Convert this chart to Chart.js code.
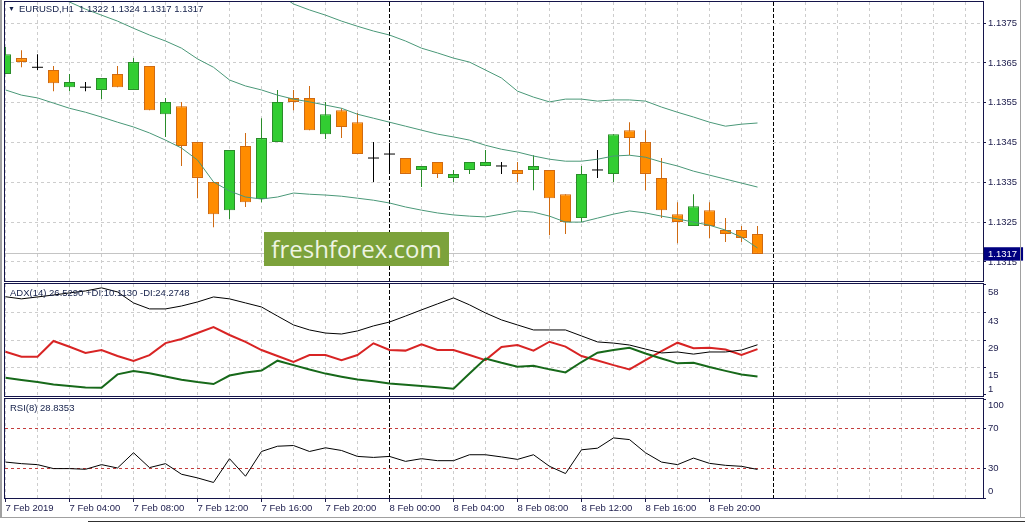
<!DOCTYPE html>
<html>
<head>
<meta charset="utf-8">
<script src="https://cdn.jsdelivr.net/npm/chart.js@4.4.1/dist/chart.umd.min.js"></script>
<style>
  body { margin: 0; background: #fff; }
  #wrap { position: relative; width: 1025px; height: 523px; overflow: hidden; font-family: "Liberation Sans", Arial, sans-serif; }
  #wrap canvas { position: absolute; left: 0; }
  .hdr { position: absolute; font-size: 9.5px; line-height: 12px; color: #14204a; white-space: pre; z-index: 5; }
  .tri { font-size: 7px; vertical-align: 1px; margin-right: 4px; }
  #mark { position: absolute; left: 264px; top: 232px; width: 185px; height: 34px; background: #7ca23b;
          color: #eef4e2; font: 24px "Open Sans", sans-serif; line-height: 33px; text-align: center; z-index: 4; }
  .edge { position: absolute; background: #a0a0a0; }
</style>
</head>
<body>
<div id="wrap">
  <canvas id="priceChart" width="1025" height="282" style="top:0"></canvas>
  <canvas id="adxChart" width="1025" height="115" style="top:282px"></canvas>
  <canvas id="rsiChart" width="1025" height="126" style="top:397px"></canvas>

  <div class="hdr" style="left:8px; top:3px"><span class="tri">▼</span>EURUSD,H1  1.1322 1.1324 1.1317 1.1317</div>
  <div class="hdr" style="left:10px; top:287px">ADX(14) 26.5290 +DI:10.1130 -DI:24.2748</div>
  <div class="hdr" style="left:10px; top:402px">RSI(8) 28.8353</div>
  <div id="mark">freshforex.com</div>

  <div class="edge" style="left:0; top:0; width:2px; height:518px"></div>
  <div class="edge" style="left:1020px; top:0; width:1px; height:518px"></div>
  <div class="edge" style="left:0; top:517px; width:1025px; height:1px"></div>
  <div class="edge" style="left:88px; top:521px; width:937px; height:1px; background:#303030"></div>
</div>

<script>
// time axis labels, one every 4 hours
const timeLabels = ['7 Feb 2019', '7 Feb 04:00', '7 Feb 08:00', '7 Feb 12:00', '7 Feb 16:00', '7 Feb 20:00',
                    '8 Feb 00:00', '8 Feb 04:00', '8 Feb 08:00', '8 Feb 12:00', '8 Feb 16:00', '8 Feb 20:00'];

// EURUSD H1 candles, 7 Feb 00:00 .. 8 Feb 23:00
const openP  = [1.13622, 1.13662, 1.13639, 1.13632, 1.13589, 1.13589, 1.13582, 1.13622, 1.13582, 1.13642, 1.13521, 1.13541,
                1.13451, 1.13351, 1.13280, 1.13441, 1.13308, 1.13451, 1.13562, 1.13562, 1.13471, 1.13531, 1.13501, 1.13411,
                1.13421, 1.13411, 1.13381, 1.13401, 1.13361, 1.13381, 1.13391, 1.13391, 1.13381, 1.13381, 1.13381, 1.13320,
                1.13260, 1.13381, 1.13371, 1.13481, 1.13451, 1.13361, 1.13270, 1.13240, 1.13280, 1.13230, 1.13230, 1.13220];
const highP  = [1.13690, 1.13682, 1.13672, 1.13642, 1.13622, 1.13602, 1.13612, 1.13642, 1.13662, 1.13642, 1.13562, 1.13552,
                1.13451, 1.13351, 1.13431, 1.13474, 1.13511, 1.13582, 1.13582, 1.13592, 1.13552, 1.13536, 1.13524, 1.13451,
                1.13449, 1.13411, 1.13391, 1.13401, 1.13381, 1.13401, 1.13431, 1.13401, 1.13401, 1.13418, 1.13381, 1.13320,
                1.13391, 1.13431, 1.13471, 1.13501, 1.13481, 1.13411, 1.13300, 1.13320, 1.13300, 1.13260, 1.13240, 1.13240];
const lowP   = [1.13622, 1.13639, 1.13632, 1.13579, 1.13579, 1.13579, 1.13559, 1.13589, 1.13582, 1.13531, 1.13464, 1.13391,
                1.13310, 1.13237, 1.13258, 1.13288, 1.13300, 1.13451, 1.13531, 1.13481, 1.13459, 1.13461, 1.13421, 1.13351,
                1.13376, 1.13371, 1.13338, 1.13361, 1.13351, 1.13371, 1.13391, 1.13371, 1.13351, 1.13330, 1.13217, 1.13220,
                1.13250, 1.13361, 1.13351, 1.13418, 1.13330, 1.13260, 1.13197, 1.13240, 1.13210, 1.13200, 1.13200, 1.13170];
const closeP = [1.13672, 1.13652, 1.13639, 1.13599, 1.13602, 1.13589, 1.13612, 1.13589, 1.13652, 1.13531, 1.13552, 1.13441,
                1.13361, 1.13270, 1.13431, 1.13300, 1.13461, 1.13552, 1.13552, 1.13481, 1.13521, 1.13489, 1.13421, 1.13411,
                1.13421, 1.13371, 1.13391, 1.13371, 1.13371, 1.13401, 1.13401, 1.13391, 1.13371, 1.13391, 1.13310, 1.13250,
                1.13371, 1.13381, 1.13471, 1.13461, 1.13371, 1.13280, 1.13250, 1.13290, 1.13240, 1.13220, 1.13210, 1.13170];

// bands
const bbUpper  = [1.14155, 1.14132, 1.14109, 1.14087, 1.14069, 1.14044, 1.14026, 1.14009, 1.13986, 1.13966, 1.13954, 1.13938,
                  1.13918, 1.13903, 1.13886, 1.13871, 1.13856, 1.13825, 1.13798, 1.13783, 1.13770, 1.13755, 1.13742, 1.13730,
                  1.13720, 1.13705, 1.13687, 1.13675, 1.13662, 1.13652, 1.13632, 1.13612, 1.13579, 1.13564, 1.13552, 1.13559,
                  1.13559, 1.13554, 1.13557, 1.13557, 1.13554, 1.13539, 1.13526, 1.13514, 1.13501, 1.13491, 1.13496, 1.13499];
const bbMiddle = [1.13868, 1.13851, 1.13835, 1.13818, 1.13803, 1.13785, 1.13770, 1.13755, 1.13737, 1.13720, 1.13705, 1.13687,
                  1.13660, 1.13639, 1.13607, 1.13592, 1.13582, 1.13569, 1.13559, 1.13552, 1.13544, 1.13536, 1.13521, 1.13511,
                  1.13501, 1.13491, 1.13481, 1.13471, 1.13464, 1.13456, 1.13443, 1.13433, 1.13426, 1.13416, 1.13408, 1.13403,
                  1.13403, 1.13408, 1.13416, 1.13418, 1.13413, 1.13401, 1.13391, 1.13378, 1.13368, 1.13358, 1.13348, 1.13338];
const bbLower  = [1.13582, 1.13569, 1.13562, 1.13549, 1.13536, 1.13526, 1.13514, 1.13501, 1.13489, 1.13474, 1.13456, 1.13436,
                  1.13406, 1.13351, 1.13328, 1.13313, 1.13308, 1.13313, 1.13323, 1.13320, 1.13318, 1.13315, 1.13310, 1.13305,
                  1.13298, 1.13288, 1.13280, 1.13273, 1.13268, 1.13265, 1.13263, 1.13270, 1.13278, 1.13275, 1.13265, 1.13250,
                  1.13250, 1.13260, 1.13270, 1.13278, 1.13273, 1.13265, 1.13258, 1.13250, 1.13242, 1.13230, 1.13212, 1.13185];

// ADX(14)
const adx     = [51.4, 50.3, 51.3, 52.3, 53.4, 54.4, 56.0, 53.9, 48.2, 45.1, 45.1, 46.6, 48.7, 51.3, 50.3, 48.2,
                 46.1, 41.4, 36.8, 34.2, 32.6, 32.1, 33.7, 36.3, 38.3, 41.4, 44.6, 47.7, 50.8, 47.2, 43.0, 39.4,
                 36.8, 34.2, 34.2, 34.2, 31.1, 28.0, 27.4, 26.4, 24.3, 22.3, 22.8, 21.7, 22.8, 22.8, 23.8, 26.53];
const plusDI  = [9.5, 8.3, 7.2, 6.0, 5.2, 4.4, 4.3, 11.2, 12.9, 11.8, 10.1, 8.4, 7.2, 6.2, 10.6, 12.2,
                 13.2, 18.3, 16.0, 13.7, 11.6, 10.0, 8.5, 7.6, 6.5, 5.8, 5.2, 4.5, 3.8, 11.6, 19.4, 17.2,
                 15.2, 15.7, 13.8, 12.2, 17.6, 22.4, 23.8, 25.0, 22.0, 19.4, 16.9, 17.2, 15.0, 13.0, 11.1, 10.11];
const minusDI = [22.9, 20.3, 20.3, 28.5, 25.5, 22.3, 23.8, 20.7, 18.1, 21.2, 27.4, 29.5, 32.6, 35.7, 31.6, 28.0,
                 23.8, 20.7, 17.7, 21.2, 21.2, 18.6, 21.2, 27.3, 23.8, 23.5, 26.8, 23.8, 23.8, 21.2, 18.6, 25.4,
                 26.4, 23.5, 28.1, 25.6, 20.7, 18.4, 16.0, 13.8, 18.6, 23.3, 27.6, 24.7, 25.0, 24.1, 21.2, 24.27];

// RSI(8)
const rsi = [36.3, 34.7, 33.7, 29.7, 29.7, 29.0, 33.7, 30.3, 45.7, 30.7, 34.7, 24.0, 20.3, 15.7, 39.7, 22.0,
             47.0, 52.3, 53.0, 47.0, 50.7, 48.0, 42.0, 41.0, 42.0, 37.0, 39.7, 37.7, 37.7, 43.7, 43.7, 41.5,
             39.0, 43.7, 32.0, 24.7, 48.7, 50.3, 60.7, 59.0, 45.7, 36.3, 33.7, 40.3, 35.0, 33.0, 32.0, 28.84];

// axis tick labels
const priceTicks = [1.1315, 1.1325, 1.1335, 1.1345, 1.1355, 1.1365, 1.1375];
const adxTicks = [58, 43, 29, 15, 1];
const rsiTicks = [100, 70, 30, 0];
const rsiLevels = [70, 30];

const lastPrice = closeP[closeP.length - 1];
const axisInk = '#1c1c4c';
const gridGrey = '#cdcdcd';
const none = 'rgba(0,0,0,0)';

Chart.defaults.font.family = '"Liberation Sans", Arial, sans-serif';
Chart.defaults.font.size = 9.5;
Chart.defaults.animation = false;
Chart.defaults.plugins.legend.display = false;
Chart.defaults.plugins.tooltip.enabled = false;

// frame round each pane
const paneFrame = {
    id: 'paneFrame',
    afterDraw(chart) {
        const { ctx, chartArea: a } = chart;
        ctx.save();
        ctx.strokeStyle = '#14144a';
        ctx.lineWidth = 1;
        ctx.strokeRect(Math.round(a.left) - 0.5, Math.round(a.top) - 0.5,
                       Math.round(a.right - a.left) + 1, Math.round(a.bottom - a.top) + 1);
        ctx.restore();
    }
};

// keep right-hand labels inside their pane like the terminal does
const keepLabelsInside = {
    id: 'keepLabelsInside',
    beforeDraw(chart) {
        const y = chart.scales.y;
        if (!y || !y.getLabelItems) return;
        const { top, bottom } = chart.chartArea;
        y.getLabelItems().forEach(item => {
            const t = item.options && item.options.translation;
            if (!t) return;
            t[1] = Math.min(Math.max(t[1], top + 6), bottom - 7);
        });
    }
};

function hasLabel(v) {
    return v % 4 === 0 && v / 4 < timeLabels.length;
}

const isDaySep = ctx => ctx.tick && ctx.tick.value > 0 && ctx.tick.value % 24 === 0;

function xAxis(showLabels) {
    return {
        type: 'linear',
        min: -0.03125,
        max: 61.09375,
        offset: false,
        afterBuildTicks: axis => {
            const t = [];
            for (let h = 0; h <= 60; h += 2) t.push({ value: h });
            axis.ticks = t;
        },
        grid: {
            offset: false,
            color: ctx => isDaySep(ctx) ? '#000' : gridGrey,
            drawTicks: showLabels,
            tickLength: 4,
            tickColor: ctx => (ctx.tick && hasLabel(ctx.tick.value)) ? axisInk : none
        },
        border: { display: false, dash: ctx => isDaySep(ctx) ? [4, 2] : (ctx.tick ? [3, 3] : []) },
        ticks: {
            display: showLabels,
            autoSkip: false,
            maxRotation: 0,
            align: 'start',
            padding: 1,
            color: axisInk,
            callback: v => hasLabel(v) ? timeLabels[v / 4] : ''
        },
        afterFit: axis => {
            axis.height = showLabels ? 20 : 0;
            axis.paddingLeft = 0;
            axis.paddingRight = 0;
        }
    };
}

function fitRight(axis) {
    axis.width = 42;
    axis.paddingTop = 0;
    axis.paddingBottom = 0;
}

const idx = openP.map((_, i) => i);
const isDoji = i => openP[i] === closeP[i];
const isBull = i => closeP[i] > openP[i];
const bodyIdx = idx.filter(i => !isDoji(i));
const dojiIdx = idx.filter(isDoji);
const edgeOf = i => isDoji(i) ? '#000000' : (isBull(i) ? '#2a8c2a' : '#cf6a12');
const bandColor = '#4a9878';

function series(arr) {
    return idx.map(i => ({ x: i, y: arr[i] }));
}

function band(arr) {
    return { type: 'line', data: series(arr), borderColor: bandColor, borderWidth: 1,
             pointRadius: 0, tension: 0, order: 0, clip: 0 };
}

// price pane
new Chart(document.getElementById('priceChart'), {
    type: 'bar',
    data: {
        datasets: [
            band(bbUpper),
            band(bbMiddle),
            band(bbLower),
            {
                type: 'line',
                data: dojiIdx.map(i => ({ x: i, y: openP[i] })),
                showLine: false,
                pointStyle: 'line',
                pointRadius: 5.5,
                pointBorderWidth: 1,
                pointBorderColor: '#000',
                order: 1,
                clip: 0
            },
            {
                type: 'bar',
                data: bodyIdx.map(i => ({ x: i, y: [openP[i], closeP[i]] })),
                backgroundColor: bodyIdx.map(i => isBull(i) ? '#32cd32' : '#ff8c00'),
                borderColor: bodyIdx.map(edgeOf),
                borderWidth: 1,
                borderSkipped: false,
                grouped: false,
                categoryPercentage: 1,
                barPercentage: 1,
                maxBarThickness: 11,
                inflateAmount: 0,
                order: 2,
                clip: 0
            },
            {
                type: 'bar',
                data: idx.map(i => ({ x: i, y: [lowP[i], highP[i]] })),
                backgroundColor: idx.map(edgeOf),
                borderWidth: 0,
                grouped: false,
                categoryPercentage: 1,
                barPercentage: 1,
                maxBarThickness: 1,
                inflateAmount: 0,
                order: 3,
                clip: 0
            }
        ]
    },
    options: {
        responsive: false,
        layout: { autoPadding: false, padding: { left: 5, right: 0, top: 2, bottom: 1 } },
        scales: {
            x: xAxis(false),
            y: {
                type: 'linear',
                position: 'right',
                min: 1.13102,
                max: 1.13803,
                afterBuildTicks: axis => {
                    axis.ticks = priceTicks.map(v => ({ value: v })).concat([{ value: lastPrice }]);
                },
                grid: {
                    color: ctx => ctx.tick && ctx.tick.value === lastPrice ? '#c4c4c4' : gridGrey,
                    tickLength: 3,
                    tickColor: ctx => ctx.tick && ctx.tick.value === lastPrice ? none : axisInk
                },
                border: { display: false, dash: ctx => (ctx.tick && ctx.tick.value !== lastPrice) ? [3, 3] : [] },
                ticks: {
                    padding: 2,
                    autoSkip: false,
                    color: ctx => ctx.tick && ctx.tick.value === lastPrice ? '#ffffff' : axisInk,
                    showLabelBackdrop: true,
                    backdropColor: ctx => ctx.tick && ctx.tick.value === lastPrice ? '#000080' : none,
                    backdropPadding: { top: 1, bottom: 1, left: 5, right: 6 },
                    callback: v => Number(v).toFixed(4)
                },
                afterFit: fitRight
            }
        }
    },
    plugins: [paneFrame, keepLabelsInside]
});

// ADX pane
new Chart(document.getElementById('adxChart'), {
    type: 'line',
    data: {
        datasets: [
            { data: series(adx), borderColor: '#000000', borderWidth: 1, pointRadius: 0, tension: 0, clip: 0 },
            { data: series(plusDI), borderColor: '#17691a', borderWidth: 2, pointRadius: 0, tension: 0, clip: 0 },
            { data: series(minusDI), borderColor: '#d82424', borderWidth: 2, pointRadius: 0, tension: 0, clip: 0 }
        ]
    },
    options: {
        responsive: false,
        layout: { autoPadding: false, padding: { left: 5, right: 0, top: 2, bottom: 1 } },
        scales: {
            x: xAxis(false),
            y: {
                type: 'linear',
                position: 'right',
                min: 0,
                max: 58,
                afterBuildTicks: axis => { axis.ticks = adxTicks.map(v => ({ value: v })); },
                grid: {
                    color: ctx => (ctx.tick && (ctx.tick.value === adxTicks[0] || ctx.tick.value === adxTicks[adxTicks.length - 1])) ? none : gridGrey,
                    tickLength: 3,
                    tickColor: axisInk
                },
                border: { display: false, dash: ctx => ctx.tick ? [3, 3] : [] },
                ticks: { padding: 2, autoSkip: false, labelOffset: 8, color: axisInk },
                afterFit: fitRight
            }
        }
    },
    plugins: [paneFrame, keepLabelsInside]
});

// RSI pane
new Chart(document.getElementById('rsiChart'), {
    type: 'line',
    data: {
        datasets: [
            { data: series(rsi), borderColor: '#000000', borderWidth: 1, pointRadius: 0, tension: 0, clip: 0 }
        ]
    },
    options: {
        responsive: false,
        layout: { autoPadding: false, padding: { left: 5, right: 0, top: 2, bottom: 5 } },
        scales: {
            x: xAxis(true),
            y: {
                type: 'linear',
                position: 'right',
                min: 0,
                max: 100,
                afterBuildTicks: axis => { axis.ticks = rsiTicks.map(v => ({ value: v })); },
                grid: {
                    color: ctx => (ctx.tick && rsiLevels.includes(ctx.tick.value)) ? '#c43c3c' : none,
                    tickLength: 3,
                    tickColor: axisInk
                },
                border: { display: false, dash: ctx => ctx.tick ? [3, 3] : [] },
                ticks: { padding: 2, autoSkip: false, color: axisInk },
                afterFit: fitRight
            }
        }
    },
    plugins: [paneFrame, keepLabelsInside]
});
</script>
</body>
</html>
